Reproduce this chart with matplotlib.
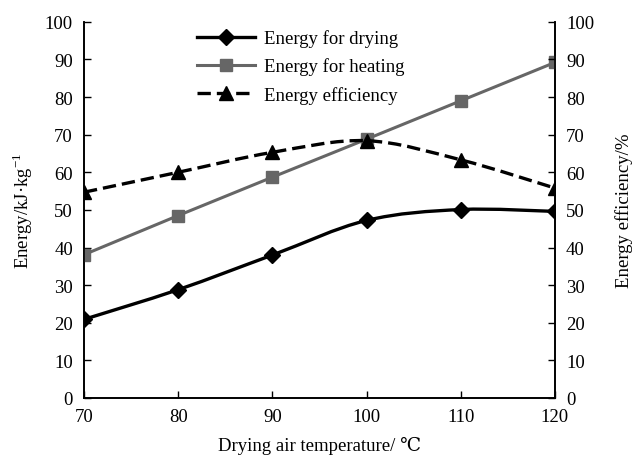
import matplotlib.pyplot as plt
import numpy as np
from matplotlib.path import Path
from matplotlib.patches import PathPatch
from matplotlib.lines import Line2D

plt.rcParams['font.family'] = ['Liberation Serif', 'DejaVu Serif']
plt.rcParams['mathtext.fontset'] = 'custom'
plt.rcParams['mathtext.rm'] = 'Liberation Serif'

# Data
temperature = [70, 80, 90, 100, 110, 120]
energy_drying = [20.9, 28.8, 38.0, 47.2, 50.1, 49.6]
energy_heating = [38.1, 48.5, 58.7, 68.8, 79.0, 89.2]
efficiency = [54.7, 60.0, 65.3, 68.4, 63.3, 55.8]


def smooth_path(x, y, tension=1 / 6):
    # Excel-style smoothed line drawn as cubic Bezier segments
    x = np.asarray(x, float)
    y = np.asarray(y, float)
    pts = np.column_stack([x, y])
    verts = [pts[0]]
    codes = [Path.MOVETO]
    n = len(pts)
    for i in range(n - 1):
        p0 = pts[i - 1] if i > 0 else pts[i]
        p1 = pts[i]
        p2 = pts[i + 1]
        p3 = pts[i + 2] if i + 2 < n else pts[i + 1]
        c1 = p1 + (p2 - p0) * tension
        c2 = p2 - (p3 - p1) * tension
        verts += [c1, c2, p2]
        codes += [Path.CURVE4] * 3
    return Path(verts, codes)


fs = 13.5
dash = (0, (4, 1.8))

fig = plt.figure(figsize=(6.33, 4.56), dpi=100)
ax = fig.add_axes([0.1327, 0.125, 0.744, 0.825])
ax2 = ax.twinx()

# Energy for drying
ax.add_patch(PathPatch(smooth_path(temperature, energy_drying), fill=False,
                       edgecolor='black', lw=2.4, zorder=3))
ax.plot(temperature, energy_drying, ls='none', marker='D', ms=8,
        color='black', zorder=4)

# Energy for heating
ax.plot(temperature, energy_heating, color='#666666', lw=2.2, marker='s',
        ms=8.5, zorder=3)

# Energy efficiency (right axis)
ax2.add_patch(PathPatch(smooth_path(temperature, efficiency), fill=False,
                        edgecolor='black', lw=2.4, ls=dash, zorder=3))
ax2.plot(temperature, efficiency, ls='none', marker='^', ms=10,
         color='black', zorder=4)

for a in (ax, ax2):
    a.set_xlim(70, 120)
    a.set_ylim(0, 100)
    a.set_yticks(np.arange(0, 101, 10))
    a.spines['top'].set_visible(False)
    for s in a.spines.values():
        s.set_linewidth(1.2)
    a.tick_params(direction='in', length=5, width=1, labelsize=fs, pad=8)

ax.set_xticks(temperature)
ax.tick_params(axis='x', pad=7.5)
ax.set_xlabel('Drying air temperature/ ℃', fontsize=fs)
ax.set_ylabel('Energy/kJ·kg$^{-1}$', fontsize=fs)
ax2.set_ylabel('Energy efficiency/%', fontsize=fs)
ax.xaxis.set_label_coords(0.5, -0.101)
ax.yaxis.set_label_coords(-0.104, 0.5)
ax2.yaxis.set_label_coords(1.127, 0.5)

handles = [
    Line2D([], [], color='black', lw=2.4, marker='D', ms=8),
    Line2D([], [], color='#666666', lw=2.2, marker='s', ms=8.5),
    Line2D([], [], color='black', lw=2.4, ls=dash, marker='^', ms=10),
]
labels = ['Energy for drying', 'Energy for heating', 'Energy efficiency']
ax2.legend(handles, labels, loc='upper left', bbox_to_anchor=(0.24, 0.98),
           frameon=False, fontsize=fs, handlelength=3.1, handletextpad=0.48,
           labelspacing=0.55, borderpad=0, borderaxespad=0)

fig.savefig('out.png', dpi=100)
